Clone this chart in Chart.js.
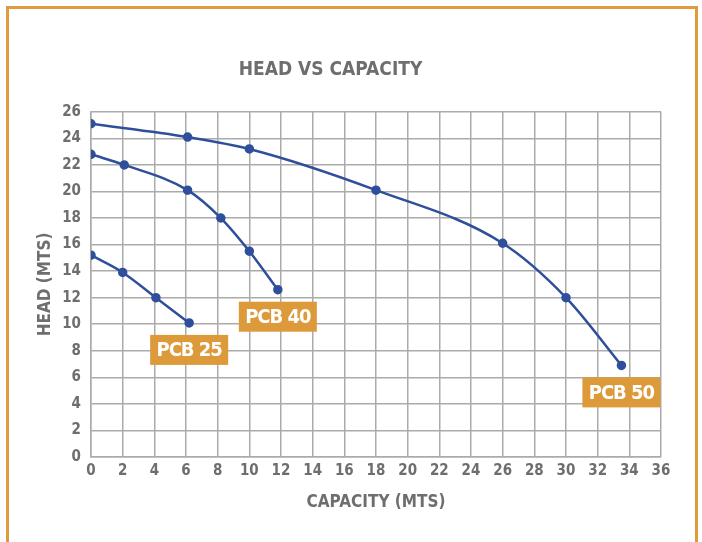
<!DOCTYPE html>
<html>
<head>
<meta charset="utf-8">
<script src="https://cdn.jsdelivr.net/npm/chart.js@4.4.1/dist/chart.umd.min.js"></script>
<style>
    html, body { margin: 0; padding: 0; background: #ffffff; }
    #wrap { position: relative; width: 702px; height: 542px; overflow: hidden; }
    #frame {
        position: absolute; left: 6px; top: 6px; width: 686px; height: 560px;
        border: 3px solid #DE9C3E; border-bottom: none; pointer-events: none;
    }
</style>
</head>
<body>
<div id="wrap">
    <canvas id="pump-chart" width="702" height="542"></canvas>
    <div id="frame"></div>
</div>
<script>
// ===== Head vs Capacity curves =====

const seriesNames = ['PCB 25', 'PCB 40', 'PCB 50'];

// capacity (x) / head (y) points
const pcb25Capacity = [0, 2, 4.1, 6.2];
const pcb25Head = [15.2, 13.9, 12.0, 10.1];

const pcb40Capacity = [0, 2.1, 6.1, 8.2, 10, 11.8];
const pcb40Head = [22.8, 22.0, 20.1, 18.0, 15.5, 12.6];

const pcb50Capacity = [0, 6.1, 10, 18, 26, 30, 33.5];
const pcb50Head = [25.1, 24.1, 23.2, 20.1, 16.1, 12.0, 6.9];

const xTicks = [0, 2, 4, 6, 8, 10, 12, 14, 16, 18, 20, 22, 24, 26, 28, 30, 32, 34, 36];
const yTicks = [0, 2, 4, 6, 8, 10, 12, 14, 16, 18, 20, 22, 24, 26];

const FONT = "'DejaVu Sans Condensed', 'Roboto', sans-serif";
const LINE_COLOR = '#2F4F9C';
const TEXT_GREY = '#6D6E70';
const TAG_COLOR = '#DC9A3A';

function toPoints(xs, ys) {
    return xs.map((x, i) => ({ x: x, y: ys[i] }));
}

// orange name tag under the last point of each curve
const seriesTags = {
    id: 'seriesTags',
    afterDatasetsDraw(chart) {
        const ctx = chart.ctx;
        ctx.save();
        ctx.font = 'bold 20px ' + FONT;
        if ('letterSpacing' in ctx) ctx.letterSpacing = '-1px';
        ctx.textAlign = 'center';
        ctx.textBaseline = 'middle';
        chart.data.datasets.forEach((ds, i) => {
            const meta = chart.getDatasetMeta(i);
            const last = meta.data[meta.data.length - 1];
            const w = 78, h = 30;
            const cx = last.x, top = last.y + 12;
            ctx.fillStyle = TAG_COLOR;
            ctx.fillRect(cx - w / 2, top, w, h);
            ctx.fillStyle = '#ffffff';
            ctx.fillText(ds.label, cx, top + h / 2 + 1);
        });
        ctx.restore();
    }
};

const datasets = [
    toPoints(pcb25Capacity, pcb25Head),
    toPoints(pcb40Capacity, pcb40Head),
    toPoints(pcb50Capacity, pcb50Head)
].map((pts, i) => ({
    label: seriesNames[i],
    data: pts,
    borderColor: LINE_COLOR,
    backgroundColor: LINE_COLOR,
    borderWidth: 2.5,
    pointRadius: 3.5,
    pointHoverRadius: 3.5,
    cubicInterpolationMode: 'monotone',
    showLine: true,
    fill: false
}));

new Chart(document.getElementById('pump-chart').getContext('2d'), {
    type: 'scatter',
    data: { datasets: datasets },
    options: {
        responsive: false,
        animation: false,
        layout: { padding: { left: 0, right: 41, top: 0, bottom: 0 } },
        plugins: {
            legend: { display: false },
            tooltip: { enabled: false },
            title: {
                display: true,
                text: 'HEAD VS CAPACITY',
                color: TEXT_GREY,
                font: { family: FONT, size: 19, weight: 'bold', lineHeight: 1.2 },
                padding: { top: 59, bottom: 30 }
            }
        },
        scales: {
            x: {
                type: 'linear',
                min: 0,
                max: 36,
                afterBuildTicks: (scale) => { scale.ticks = xTicks.map(v => ({ value: v })); },
                afterFit: (scale) => { scale.height = 85; },
                grid: { color: '#ABABAB', lineWidth: 1.5, drawTicks: false },
                border: { color: '#ABABAB', width: 1.5 },
                ticks: {
                    color: TEXT_GREY,
                    padding: 5,
                    font: { family: FONT, size: 15, weight: 'bold' }
                },
                title: {
                    display: true,
                    text: 'CAPACITY (MTS)',
                    color: TEXT_GREY,
                    font: { family: FONT, size: 17, weight: 'bold', lineHeight: 1.2 },
                    padding: { top: 0, bottom: 29 }
                }
            },
            y: {
                type: 'linear',
                min: 0,
                max: 26,
                afterBuildTicks: (scale) => { scale.ticks = yTicks.map(v => ({ value: v })); },
                afterFit: (scale) => { scale.width = 91; },
                grid: { color: '#ABABAB', lineWidth: 1.5, drawTicks: false },
                border: { color: '#ABABAB', width: 1.5 },
                ticks: {
                    color: TEXT_GREY,
                    padding: 10,
                    font: { family: FONT, size: 15, weight: 'bold' }
                },
                title: {
                    display: true,
                    text: 'HEAD (MTS)',
                    color: TEXT_GREY,
                    font: { family: FONT, size: 17, weight: 'bold', lineHeight: 1.2 },
                    padding: { top: 35, bottom: 0 }
                }
            }
        }
    },
    plugins: [seriesTags]
});
</script>
</body>
</html>
